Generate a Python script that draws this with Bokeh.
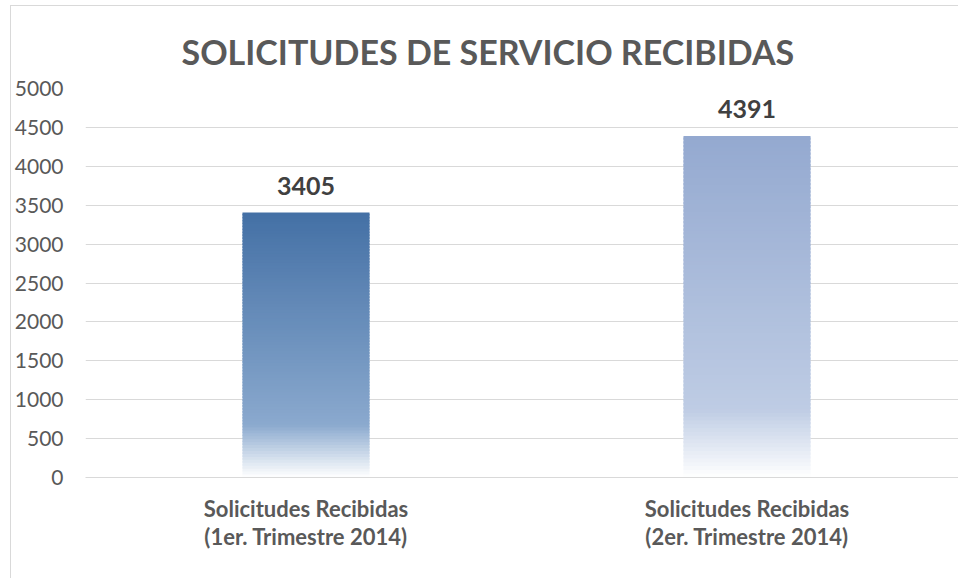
from bokeh.plotting import figure
from bokeh.models import FixedTicker, Range1d
from bokeh.core.properties import value
from bokeh.embed import file_html
from bokeh.resources import INLINE

# ---- data ----
categories = ["Solicitudes Recibidas\n(1er. Trimestre 2014)",
              "Solicitudes Recibidas\n(2er. Trimestre 2014)"]
values = [3405, 4391]
y_ticks = [0, 500, 1000, 1500, 2000, 2500, 3000, 3500, 4000, 4500, 5000]
title_text = "SOLICITUDES DE SERVICIO RECIBIDAS"

# ---- style ----
FONT = "Lato"
bar_top_colors = [(0x44, 0x70, 0xA5), (0x94, 0xA9, 0xD0)]
bar_mid_colors = [(0x8A, 0xA9, 0xCE), (0xBE, 0xCC, 0xE4)]
bar_bottom = (0xFF, 0xFF, 0xFF)
stop = 0.2
bar_width = 0.288
N = 90

xs = list(range(len(categories)))

p = figure(width=948, height=573, output_backend="svg", toolbar_location=None,
           x_range=Range1d(-0.5, -0.5 + 874 / 441), y_range=Range1d(0, 5000),
           min_border_left=74, min_border_top=82, min_border_bottom=102,
           min_border_right=0)
p.margin = (5, 0, 0, 10)
p.styles = {"border-left": "1px solid #D9D9D9", "border-top": "1px solid #D9D9D9"}
p.outline_line_color = None
p.background_fill_color = "white"
p.border_fill_color = "white"


def lerp(c1, c2, t):
    return "#%02x%02x%02x" % tuple(int(round(a + (b - a) * t)) for a, b in zip(c1, c2))


def grad_color(i, f):
    if f <= stop:
        return lerp(bar_bottom, bar_mid_colors[i], f / stop)
    return lerp(bar_mid_colors[i], bar_top_colors[i], (f - stop) / (1 - stop))


L, R, B, T, C = [], [], [], [], []
for i, (x, v) in enumerate(zip(xs, values)):
    for k in range(N):
        b = v * k / N
        t = v * min(k + 1.6, N) / N  # overlap the next slice to avoid seams
        L.append(x - bar_width / 2)
        R.append(x + bar_width / 2)
        B.append(b)
        T.append(t)
        C.append(grad_color(i, (k + 0.5) / N))

p.quad(left=L, right=R, bottom=B, top=T, fill_color=C, line_color=None)

p.text(x=xs, y=values, text=[str(v) for v in values], text_align="center",
       text_baseline="alphabetic", y_offset=-27, text_font=value(FONT),
       text_font_style="bold", text_font_size="25px", text_color="#404040")

# title
p.title.text = title_text
p.title.align = "left"
p.title.offset = 96
p.title.text_font = FONT
p.title.text_font_style = "bold"
p.title.text_font_size = "34px"
p.title.text_color = "#595959"
p.title.standoff = 34

# grid
p.xgrid.grid_line_color = None
p.ygrid.grid_line_color = "#D9D9D9"
p.ygrid.grid_line_width = 1
p.yaxis.ticker = FixedTicker(ticks=y_ticks)

# y axis
p.yaxis.axis_line_color = None
p.yaxis.major_tick_line_color = None
p.yaxis.minor_tick_line_color = None
p.yaxis.major_tick_out = 0
p.yaxis.major_label_standoff = 22
p.yaxis.major_label_text_font = FONT
p.yaxis.major_label_text_font_size = "21px"
p.yaxis.major_label_text_color = "#595959"

# x axis
p.xaxis.ticker = FixedTicker(ticks=xs)
p.xaxis.major_label_overrides = {x: c for x, c in zip(xs, categories)}
p.xaxis.axis_line_color = "#D9D9D9"
p.xaxis.axis_line_width = 1
p.xaxis.major_tick_line_color = None
p.xaxis.minor_tick_line_color = None
p.xaxis.major_tick_out = 0
p.xaxis.major_label_standoff = 17
p.xaxis.major_label_text_font = FONT
p.xaxis.major_label_text_font_style = "bold"
p.xaxis.major_label_text_font_size = "22px"
p.xaxis.major_label_text_color = "#595959"
p.xaxis.major_label_text_line_height = 1.05

open("out.html", "w").write(file_html(p, INLINE))
